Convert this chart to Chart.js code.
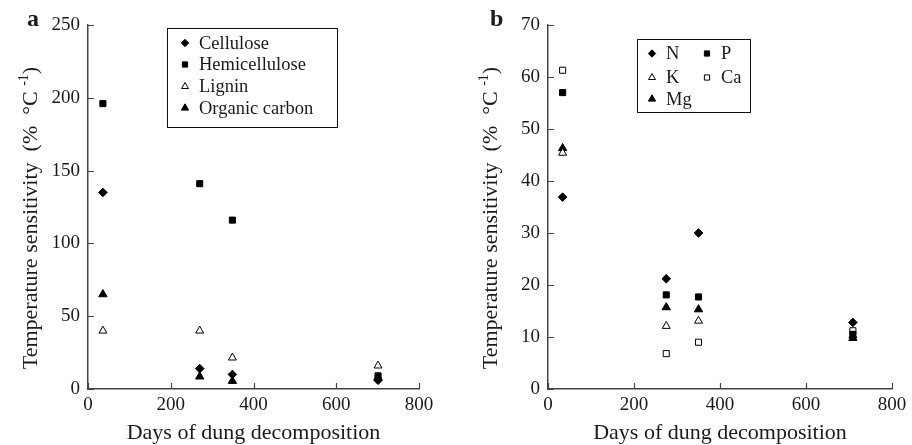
<!DOCTYPE html>
<html>
<head>
<meta charset="utf-8">
<script src="https://cdn.jsdelivr.net/npm/chart.js@4.4.0/dist/chart.umd.min.js"></script>
<style>
  html, body { margin: 0; padding: 0; background: #fff; }
  #wrap { position: relative; width: 912px; height: 445px; }
  canvas { position: absolute; top: 0; }
  #chartA { left: 0; }
  #chartB { left: 460px; }
</style>
</head>
<body>
<div id="wrap">
  <canvas id="chartA" width="460" height="445"></canvas>
  <canvas id="chartB" width="452" height="445"></canvas>
</div>
<script>
// --- Panel a: carbon fractions ---
const daysA = [36, 270, 349, 701];
const cellulose = [135, 14, 10, 6];
const hemicellulose = [196, 141, 116, 9];
const lignin = [40, 40, 21.5, 16];
const organicCarbon = [65, 8.5, 5.5, 8];
const ticksA = { x: [0, 800, 200], y: [0, 250, 50] };

// --- Panel b: nutrients ---
const daysB = [34, 275, 350, 709];
const nitrogen = [36.9, 21.2, 30, 12.8];
const phosphorus = [57, 18.1, 17.7, 10.5];
const potassium = [45.4, 12.1, 13.1, 10.3];
const calcium = [61.3, 6.8, 9.0, 11.2];
const magnesium = [46.3, 15.7, 15.3, 9.8];
const ticksB = { x: [0, 800, 200], y: [0, 70, 10] };

const SERIF = '"Liberation Serif", "Times New Roman", serif';
const INK = '#1a1a1a';
const AXIS = '#444';

const pts = (xs, ys) => xs.map((x, i) => ({ x: x, y: ys[i] }));

// marker looks: filled diamond / filled square / open triangle / open square / filled triangle
const MARK = {
  diamond:  { pointStyle: 'rectRot',  pointRadius: 4.3, backgroundColor: '#000', borderColor: '#000' },
  square:   { pointStyle: 'rect',     pointRadius: 4.3, backgroundColor: '#000', borderColor: '#000' },
  openTri:  { pointStyle: 'triangle', pointRadius: 4.6, backgroundColor: '#fff', borderColor: '#000' },
  openSq:   { pointStyle: 'rect',     pointRadius: 4.3, backgroundColor: '#fff', borderColor: '#000' },
  fillTri:  { pointStyle: 'triangle', pointRadius: 4.8, backgroundColor: '#000', borderColor: '#000' }
};

function series(label, xs, ys, mark) {
  return Object.assign({ label: label, data: pts(xs, ys), borderWidth: 1, showLine: false }, MARK[mark]);
}

// axis decorations, titles and the boxed legend
const panelDecor = {
  id: 'panelDecor',
  afterDraw(chart, args, opts) {
    const ctx = chart.ctx;
    const { left, right, top, bottom } = chart.chartArea;
    const xs = chart.scales.x, ys = chart.scales.y;
    ctx.save();

    // inward tick marks
    ctx.strokeStyle = AXIS;
    ctx.lineWidth = 1.2;
    ctx.beginPath();
    xs.ticks.forEach(t => {
      const px = Math.round(xs.getPixelForValue(t.value)) + 0.5;
      ctx.moveTo(px, bottom); ctx.lineTo(px, bottom - 6);
    });
    ys.ticks.forEach(t => {
      const py = Math.round(ys.getPixelForValue(t.value)) + 0.5;
      ctx.moveTo(left, py); ctx.lineTo(left + 6, py);
    });
    ctx.stroke();

    ctx.fillStyle = INK;

    // panel letter
    ctx.font = 'bold 24px ' + SERIF;
    ctx.textAlign = 'left';
    ctx.textBaseline = 'alphabetic';
    ctx.fillText(opts.letter, opts.letterX, 26);

    // x title
    ctx.font = '22px ' + SERIF;
    ctx.textAlign = 'center';
    ctx.fillText('Days of dung decomposition', (left + right) / 2, 439);

    // y title with superscript, rotated
    ctx.translate(opts.yTitleX, opts.yTitleY);
    ctx.rotate(-Math.PI / 2);
    const main = 'Temperature sensitivity  (%  \u00B0C ';
    const sup = '-1';
    const close = ')';
    ctx.font = '22px ' + SERIF;
    const wMain = ctx.measureText(main).width;
    const wClose = ctx.measureText(close).width;
    ctx.font = '14px ' + SERIF;
    const wSup = ctx.measureText(sup).width;
    let cx = -(wMain + wSup + wClose) / 2;
    ctx.textAlign = 'left';
    ctx.font = '22px ' + SERIF;
    ctx.fillText(main, cx, 0);
    cx += wMain;
    ctx.font = '14px ' + SERIF;
    ctx.fillText(sup, cx, -9);
    cx += wSup;
    ctx.font = '22px ' + SERIF;
    ctx.fillText(close, cx, 0);
    ctx.setTransform(1, 0, 0, 1, 0, 0);

    // legend box
    const lg = opts.legend;
    ctx.strokeStyle = '#111';
    ctx.lineWidth = 1;
    ctx.strokeRect(lg.box[0] + 0.5, lg.box[1] + 0.5, lg.box[2], lg.box[3]);
    ctx.font = '18.5px ' + SERIF;
    ctx.textBaseline = 'middle';
    ctx.textAlign = 'left';
    lg.items.forEach(it => {
      const ds = chart.data.datasets[it.ds];
      ctx.fillStyle = ds.backgroundColor;
      ctx.strokeStyle = ds.borderColor;
      ctx.lineWidth = 1;
      Chart.helpers.drawPoint(ctx, {
        pointStyle: ds.pointStyle, radius: ds.pointRadius - 0.6, rotation: 0, borderWidth: 1
      }, it.x, it.y);
      ctx.fillStyle = INK;
      ctx.fillText(ds.label, it.x + 14, it.y + 1);
    });
    ctx.restore();
  }
};

function axisOpts(range, size, isX) {
  return {
    type: 'linear',
    min: range[0], max: range[1],
    ticks: {
      stepSize: range[2],
      padding: isX ? 5 : 8,
      color: INK,
      font: { family: SERIF, size: 19 }
    },
    grid: { display: false, drawTicks: false },
    border: { display: true, color: AXIS, width: 1.5 },
    afterFit: isX ? (s => { s.height = size; }) : (s => { s.width = size; })
  };
}

function makeChart(id, datasets, ticks, padRight, decor) {
  return new Chart(document.getElementById(id), {
    type: 'scatter',
    data: { datasets: datasets },
    options: {
      responsive: false,
      animation: false,
      layout: { padding: { left: 0, right: padRight, top: 25, bottom: 0 } },
      scales: {
        x: axisOpts(ticks.x, 56, true),
        y: axisOpts(ticks.y, 88, false)
      },
      plugins: {
        legend: { display: false },
        tooltip: { enabled: false },
        panelDecor: decor
      }
    },
    plugins: [panelDecor]
  });
}

makeChart('chartA', [
  series('Cellulose', daysA, cellulose, 'diamond'),
  series('Hemicellulose', daysA, hemicellulose, 'square'),
  series('Lignin', daysA, lignin, 'openTri'),
  series('Organic carbon', daysA, organicCarbon, 'fillTri')
], ticksA, 41, {
  letter: 'a', letterX: 27, yTitleX: 37, yTitleY: 218,
  legend: {
    box: [167, 28, 170, 99],
    items: [
      { ds: 0, x: 185, y: 43 },
      { ds: 1, x: 185, y: 64.5 },
      { ds: 2, x: 185, y: 86.5 },
      { ds: 3, x: 185, y: 108 }
    ]
  }
});

makeChart('chartB', [
  series('N', daysB, nitrogen, 'diamond'),
  series('P', daysB, phosphorus, 'square'),
  series('K', daysB, potassium, 'openTri'),
  series('Ca', daysB, calcium, 'openSq'),
  series('Mg', daysB, magnesium, 'fillTri')
], ticksB, 20, {
  letter: 'b', letterX: 30, yTitleX: 37, yTitleY: 218,
  legend: {
    box: [177, 39, 113, 73],
    items: [
      { ds: 0, x: 192, y: 53.5 },
      { ds: 1, x: 247, y: 53.5 },
      { ds: 2, x: 192, y: 77.5 },
      { ds: 3, x: 247, y: 77.5 },
      { ds: 4, x: 192, y: 99 }
    ]
  }
});
</script>
</body>
</html>
